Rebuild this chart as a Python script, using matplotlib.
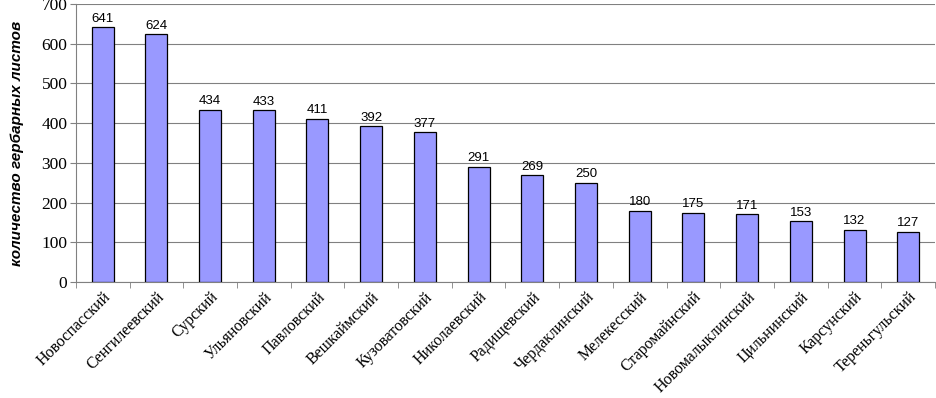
import matplotlib
matplotlib.use("Agg")
import matplotlib.pyplot as plt
import numpy as np

categories = ["Новоспасский", "Сенгилеевский", "Сурский", "Ульяновский", "Павловский",
              "Вешкаймский", "Кузоватовский", "Николаевский", "Радищевский", "Чердаклинский",
              "Мелекесский", "Старомайнский", "Новомалыклинский", "Цильнинский", "Карсунский",
              "Тереньгульский"]
values = [641, 624, 434, 433, 411, 392, 377, 291, 269, 250, 180, 175, 171, 153, 132, 127]
yticks = [0, 100, 200, 300, 400, 500, 600, 700]
ylabel = "количество гербарных листов"

fig = plt.figure(figsize=(9.36, 3.98), dpi=100)
ax = fig.add_axes([0.081, 0.291, 0.918, 0.699])

x = np.arange(len(categories))
ax.bar(x, values, width=0.41, color="#9999FF", edgecolor="black", linewidth=0.9, zorder=3)
for xi, v in zip(x, values):
    ax.text(xi, v + 6, str(v), ha="center", va="bottom", fontsize=9.5,
            family="Liberation Sans", zorder=4)

ax.set_xlim(-0.5, len(categories) - 0.5)
ax.set_ylim(0, 700)
ax.set_yticks(yticks)
ax.set_yticklabels([str(t) for t in yticks], family="Liberation Serif", fontsize=12.5)
ax.yaxis.grid(True, color="#808080", linewidth=0.8, zorder=0)
ax.set_axisbelow(True)

ax.set_xticks(x)
ax.set_xticklabels(categories, rotation=45, ha="right", rotation_mode="anchor",
                   family="Liberation Serif", fontsize=11.5)
ax.tick_params(axis="x", length=0, pad=5)
ax.set_xticks(np.arange(len(categories) + 1) - 0.5, minor=True)
ax.tick_params(axis="x", which="minor", length=4, direction="out", color="#808080")
ax.tick_params(axis="y", length=4, direction="out", color="#808080", pad=2)

for s in ["top", "right"]:
    ax.spines[s].set_visible(False)
ax.spines["left"].set_color("#808080")
ax.spines["bottom"].set_color("#808080")

ax.set_ylabel(ylabel, family="Liberation Sans", fontsize=11, fontstyle="italic",
              fontweight="bold")
ax.yaxis.set_label_coords(-0.06, 0.5)

fig.savefig("out.png", dpi=100)
